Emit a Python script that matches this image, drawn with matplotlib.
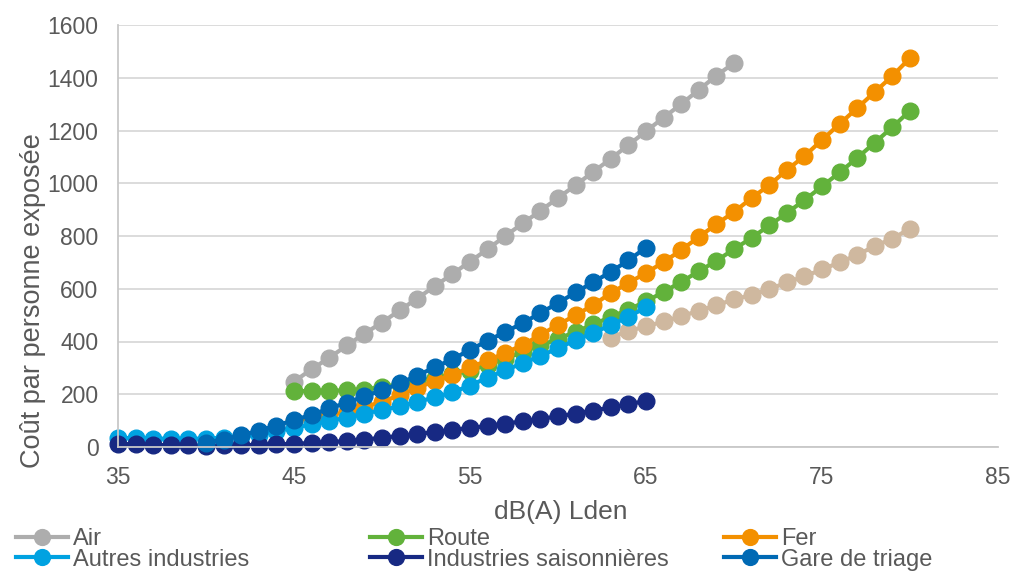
import matplotlib
matplotlib.use("Agg")
import matplotlib.pyplot as plt
import numpy as np

# -------------------------------
# Data
# -------------------------------

air_x = list(range(45, 71))
air = [248, 295, 338, 385, 430, 472, 518, 563, 610, 656, 703, 750, 800,
       848, 896, 944, 993, 1043, 1093, 1145, 1197, 1249, 1300, 1354, 1408, 1456]

route_x = list(range(45, 81))
route = [212, 212, 213, 215, 218, 228, 238, 250, 262, 275, 290, 312, 335,
         360, 385, 410, 437, 465, 493, 521, 552, 588, 626, 666, 706, 750,
         793, 840, 887, 936, 988, 1041, 1096, 1154, 1213, 1275]

fer_x = list(range(45, 81))
fer = [100, 110, 121, 133, 152, 171, 197, 224, 250, 273, 302, 328, 357,
       387, 425, 463, 500, 538, 584, 622, 660, 701, 747, 796, 845, 891,
       944, 993, 1050, 1103, 1164, 1225, 1285, 1346, 1407, 1475]

autres_x = list(range(35, 66))
autres = [35, 33, 32, 31, 31, 32, 35, 40, 47, 60, 73, 86, 99, 111, 127,
          140, 154, 171, 188, 207, 233, 263, 291, 318, 345, 375, 405, 432,
          463, 493, 530]

saison_x = list(range(35, 66))
saison = [12, 10, 8, 7, 6, 5, 6, 7, 8, 10, 12, 15, 18, 23, 28, 35, 42, 49,
          57, 65, 72, 80, 89, 97, 107, 116, 127, 138, 150, 162, 175]

gare_x = list(range(40, 66))
gare = [17, 28, 45, 62, 81, 102, 122, 146, 168, 192, 215, 241, 271, 302,
        333, 368, 403, 436, 470, 508, 546, 586, 625, 664, 708, 756]

# 7th series (no legend entry visible)
serie7_x = list(range(63, 81))
serie7 = [415, 440, 457, 476, 495, 517, 537, 560, 576, 598, 624, 647, 673,
          700, 728, 762, 790, 828]

x_ticks = [35, 45, 55, 65, 75, 85]
y_ticks = [0, 200, 400, 600, 800, 1000, 1200, 1400, 1600]

# -------------------------------
# Plot
# -------------------------------

plt.rcParams["font.family"] = ["Liberation Sans", "DejaVu Sans"]
txt = "#595959"

fig = plt.figure(figsize=(10.14, 5.71), dpi=100)
ax = fig.add_axes([118 / 1014, 1 - 447 / 571, 880 / 1014, 422 / 571])

style = dict(marker="o", markersize=12, linewidth=3, clip_on=False)

ax.plot(serie7_x, serie7, color="#CFB89F", **style)
l_air, = ax.plot(air_x, air, color="#ADADAD", label="Air", **style)
l_route, = ax.plot(route_x, route, color="#62B23B", label="Route", **style)
l_fer, = ax.plot(fer_x, fer, color="#F39000", label="Fer", **style)
l_autres, = ax.plot(autres_x, autres, color="#00A2E1", label="Autres industries", **style)
l_saison, = ax.plot(saison_x, saison, color="#172983", label="Industries saisonnières", **style)
l_gare, = ax.plot(gare_x, gare, color="#0069B4", label="Gare de triage", **style)

ax.set_xlim(35, 85)
ax.set_ylim(0, 1600)
ax.set_xticks(x_ticks)
ax.set_yticks(y_ticks)
ax.tick_params(axis="both", length=0, labelsize=16.5, labelcolor=txt)
ax.tick_params(axis="x", pad=14)
ax.tick_params(axis="y", pad=14)
ax.grid(axis="y", color="#D9D9D9", linewidth=1.3)
ax.set_axisbelow(True)
for s in ["top", "right"]:
    ax.spines[s].set_visible(False)
ax.spines["left"].set_color("#C8C8C8")
ax.spines["bottom"].set_color("#C8C8C8")
ax.spines["left"].set_linewidth(1.3)
ax.spines["bottom"].set_linewidth(1.3)

ax.set_xlabel("dB(A) Lden", fontsize=19, color=txt)
ax.xaxis.set_label_coords(0.503, -0.125)
ax.set_ylabel("Coût par personne exposée", fontsize=19.5, color=txt)
ax.yaxis.set_label_coords(-0.082, 0.348)

# legend: three fixed-width columns like Excel
cols = [[l_air, l_autres], [l_route, l_saison], [l_fer, l_gare]]
for i, hs in enumerate(cols):
    fig.legend(handles=hs, loc="upper left",
               bbox_to_anchor=((16 + 354 * i) / 1014, 1 - 528 / 571),
               frameon=False, fontsize=17, labelcolor=txt,
               borderpad=0, borderaxespad=0, labelspacing=-0.06,
               handlelength=2.2, handletextpad=0.2, markerscale=0.95)

fig.savefig("out.png", dpi=100)
plt.close()
